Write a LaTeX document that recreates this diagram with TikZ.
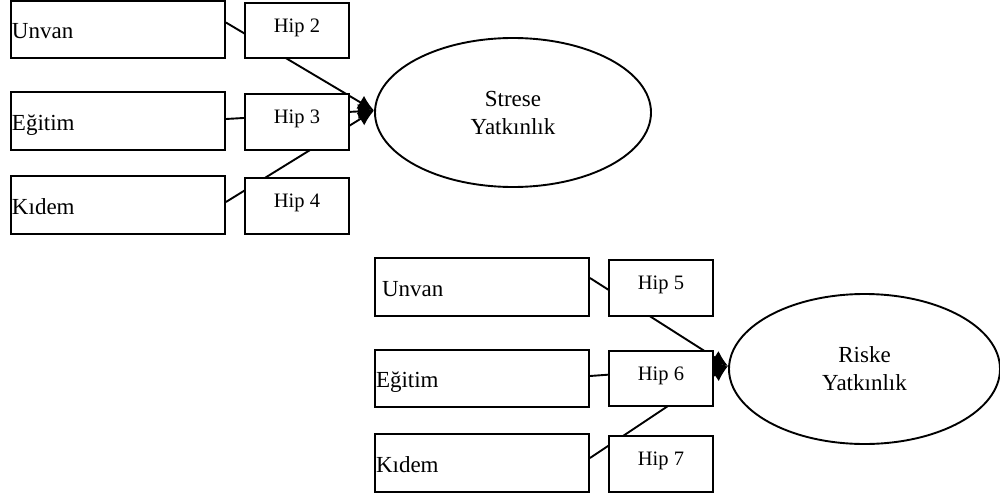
\documentclass[tikz,border=0pt]{standalone}
\usepackage{fontspec}
\setmainfont{Liberation Serif}
\usetikzlibrary{arrows.meta,shapes.geometric}
\begin{document}
\begin{tikzpicture}[x=1pt,y=-1pt,line width=1.9pt,>={Latex[length=16pt,width=15pt]},
    factor/.style={draw,rectangle,minimum width=214pt,minimum height=58pt,
      text width=212pt,align=left,inner xsep=1pt,
      font=\fontsize{23}{28}\selectfont,text height=18.5pt,text depth=0.3pt},
    hip/.style={draw,fill=white,rectangle,minimum width=104pt,minimum height=56pt,
      font=\fontsize{20.5}{25}\selectfont,text height=8pt,text depth=4.4pt},
    latent/.style={draw,ellipse,inner sep=0pt,align=center,
      font=\fontsize{23}{28}\selectfont}]
  \useasboundingbox (0,0) rectangle (1000,495);
  % upper model
  \node[factor,minimum height=57pt] (un1) at (118,29.5) {Unvan};
  \node[factor] (eg1) at (118,121) {Eğitim};
  \node[factor] (kd1) at (118,205) {Kıdem};
  \node[latent,minimum width=276pt,minimum height=149pt] (ell1) at (513,112.5)
    {Strese\\Yatkınlık};
  \foreach \f/\s in {un1/7,eg1/2,kd1/3} {
    \draw[->] ([yshift=\s pt]\f.east) -- ([yshift=2pt]ell1.west);
  }
  \node[hip,minimum height=55pt] (h2) at (297,30.5) {Hip 2};
  \node[hip] (h3) at (297,122) {Hip 3};
  \node[hip] (h4) at (297,206) {Hip 4};
  % lower model
  \node[factor] (un2) at (482,287) {\hspace*{6pt}Unvan};
  \node[factor,minimum height=57pt] (eg2) at (482,378.5) {Eğitim};
  \node[factor] (kd2) at (482,463) {Kıdem};
  \node[latent,minimum width=271pt,minimum height=150pt] (ell2) at (864.5,369)
    {Riske\\Yatkınlık};
  \foreach \f/\s in {un2/9,eg2/2.5,kd2/5} {
    \draw[->] ([yshift=\s pt]\f.east) -- ([yshift=3pt]ell2.west);
  }
  \node[hip] (h5) at (661,288) {Hip 5};
  \node[hip,minimum height=55pt] (h6) at (661,378.5) {Hip 6};
  \node[hip] (h7) at (661,464) {Hip 7};
\end{tikzpicture}
\end{document}
